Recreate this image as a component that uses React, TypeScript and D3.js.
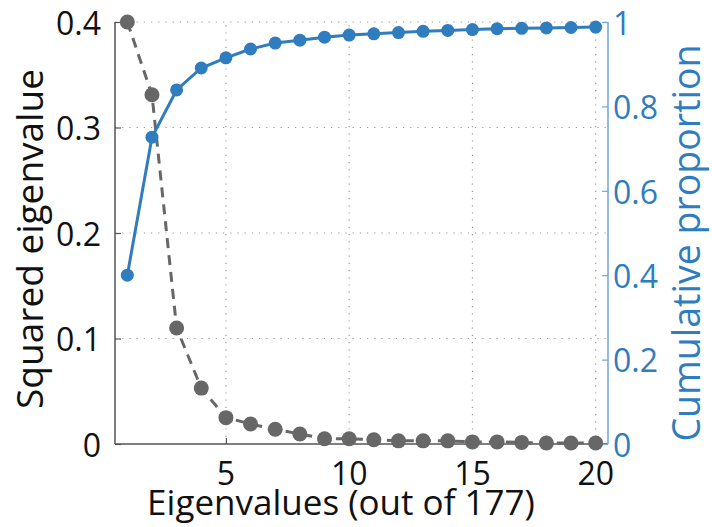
import React, { useEffect, useRef } from 'react';
import * as d3 from 'd3';

const components = d3.range(1, 21);
const squaredEigen = [0.4, 0.331, 0.11, 0.053, 0.025, 0.019, 0.014, 0.0095, 0.005, 0.005, 0.004, 0.003, 0.003, 0.003, 0.002, 0.002, 0.0015, 0.001, 0.001, 0.001];
const cumulative = [0.4, 0.727, 0.839, 0.891, 0.915, 0.936, 0.95, 0.957, 0.964, 0.969, 0.972, 0.975, 0.978, 0.98, 0.982, 0.984, 0.985, 0.986, 0.987, 0.988];
const leftTicks = [0, 0.1, 0.2, 0.3, 0.4];
const rightTicks = [0, 0.2, 0.4, 0.6, 0.8, 1];
const xTicks = [5, 10, 15, 20];

const WIDTH = 712;
const HEIGHT = 527;
const FONT = '"Open Sans", "Noto Sans", sans-serif';
const BLUE = '#2f7dbf';
const GRAY = '#676767';

const App: React.FC = () => {
    const svgRef = useRef<SVGSVGElement>(null);

    useEffect(() => {
        const svg = d3.select(svgRef.current);
        svg.selectAll('*').remove();

        const left = 115, right = 608, top = 22, bottom = 444;

        const x = d3.scaleLinear().domain([0.5, 20.5]).range([left, right]);
        const yL = d3.scaleLinear().domain([0, 0.4]).range([bottom, top]);
        const yR = d3.scaleLinear().domain([0, 1]).range([bottom, top]);

        // grid
        const grid = svg.append('g')
            .attr('stroke', '#9a9a9a')
            .attr('stroke-width', 1.2)
            .attr('stroke-dasharray', '1.2,6');
        grid.selectAll('.gx')
            .data(xTicks)
            .enter()
            .append('line')
            .attr('x1', d => x(d)).attr('x2', d => x(d))
            .attr('y1', bottom).attr('y2', top);
        grid.selectAll('.gy')
            .data(leftTicks.filter(d => d > 0))
            .enter()
            .append('line')
            .attr('x1', left).attr('x2', right)
            .attr('y1', d => yL(d)).attr('y2', d => yL(d));

        // left axis
        const leftAxis = svg.append('g')
            .attr('transform', `translate(${left},0)`)
            .call(d3.axisRight(yL).tickValues(leftTicks).tickSize(6).tickFormat(() => ''));
        leftAxis.select('.domain').attr('stroke', '#555').attr('stroke-width', 1.5).attr('d', `M0,${top}V${bottom}`);
        leftAxis.selectAll('.tick line').attr('stroke', '#555').attr('stroke-width', 1.2);

        svg.append('g')
            .selectAll('text')
            .data(leftTicks)
            .enter()
            .append('text')
            .attr('x', 101)
            .attr('y', d => yL(d))
            .attr('dy', '0.4em')
            .attr('text-anchor', 'end')
            .style('font-family', FONT)
            .style('font-size', '32px')
            .style('fill', '#111')
            .text(d => (d === 0 ? '0' : d3.format('.1f')(d)));

        // bottom axis
        const bottomAxis = svg.append('g')
            .attr('transform', `translate(0,${bottom})`)
            .call(d3.axisTop(x).tickValues(xTicks).tickSize(6).tickFormat(() => ''));
        bottomAxis.select('.domain').attr('stroke', '#555').attr('stroke-width', 1.5).attr('d', `M${left},0H${right}`);
        bottomAxis.selectAll('.tick line').attr('stroke', '#555').attr('stroke-width', 1.2);

        svg.append('g')
            .selectAll('text')
            .data(xTicks)
            .enter()
            .append('text')
            .attr('x', d => x(d))
            .attr('y', 485)
            .attr('text-anchor', 'middle')
            .style('font-family', FONT)
            .style('font-size', '32px')
            .style('fill', '#111')
            .text(d => String(d));

        // right axis
        const rightAxis = svg.append('g')
            .attr('transform', `translate(${right},0)`)
            .call(d3.axisLeft(yR).tickValues(rightTicks).tickSize(6).tickFormat(() => ''));
        rightAxis.select('.domain').attr('stroke', '#6fa6d6').attr('stroke-width', 1.5).attr('d', `M0,${top}V${bottom}`);
        rightAxis.selectAll('.tick line').attr('stroke', '#6fa6d6').attr('stroke-width', 1.2);

        svg.append('g')
            .selectAll('text')
            .data(rightTicks)
            .enter()
            .append('text')
            .attr('x', 613)
            .attr('y', d => yR(d))
            .attr('dy', '0.4em')
            .attr('text-anchor', 'start')
            .style('font-family', FONT)
            .style('font-size', '32px')
            .style('fill', BLUE)
            .text(d => (d === 0 || d === 1 ? String(d) : d3.format('.1f')(d)));

        // axis titles
        svg.append('text')
            .attr('transform', `translate(43,239) rotate(-90)`)
            .attr('text-anchor', 'middle')
            .style('font-family', FONT)
            .style('font-size', '37px')
            .style('fill', '#111')
            .text('Squared eigenvalue');

        svg.append('text')
            .attr('transform', `translate(700,243) rotate(-90)`)
            .attr('text-anchor', 'middle')
            .style('font-family', FONT)
            .style('font-size', '37.5px')
            .style('fill', BLUE)
            .text('Cumulative proportion');

        svg.append('text')
            .attr('x', 341)
            .attr('y', 515)
            .attr('text-anchor', 'middle')
            .style('font-family', FONT)
            .style('font-size', '35px')
            .style('fill', '#111')
            .text('Eigenvalues (out of 177)');

        // squared eigenvalue series (dashed gray)
        const lineL = d3.line<number>()
            .x((d, i) => x(components[i]))
            .y(d => yL(d));
        svg.append('path')
            .datum(squaredEigen)
            .attr('d', lineL)
            .attr('fill', 'none')
            .attr('stroke', GRAY)
            .attr('stroke-width', 3)
            .attr('stroke-dasharray', '10,7');
        svg.append('g')
            .selectAll('circle')
            .data(squaredEigen)
            .enter()
            .append('circle')
            .attr('cx', (d, i) => x(components[i]))
            .attr('cy', d => yL(d))
            .attr('r', 7.5)
            .attr('fill', GRAY);

        // cumulative series (solid blue)
        const lineR = d3.line<number>()
            .x((d, i) => x(components[i]))
            .y(d => yR(d));
        svg.append('path')
            .datum(cumulative)
            .attr('d', lineR)
            .attr('fill', 'none')
            .attr('stroke', BLUE)
            .attr('stroke-width', 3);
        svg.append('g')
            .selectAll('circle')
            .data(cumulative)
            .enter()
            .append('circle')
            .attr('cx', (d, i) => x(components[i]))
            .attr('cy', d => yR(d))
            .attr('r', 6.5)
            .attr('fill', BLUE);
    }, []);

    return (
        <svg
            ref={svgRef}
            width={WIDTH}
            height={HEIGHT}
            style={{ position: 'absolute', left: 0, top: 0, background: '#fff' }}
        />
    );
};

export default App;
